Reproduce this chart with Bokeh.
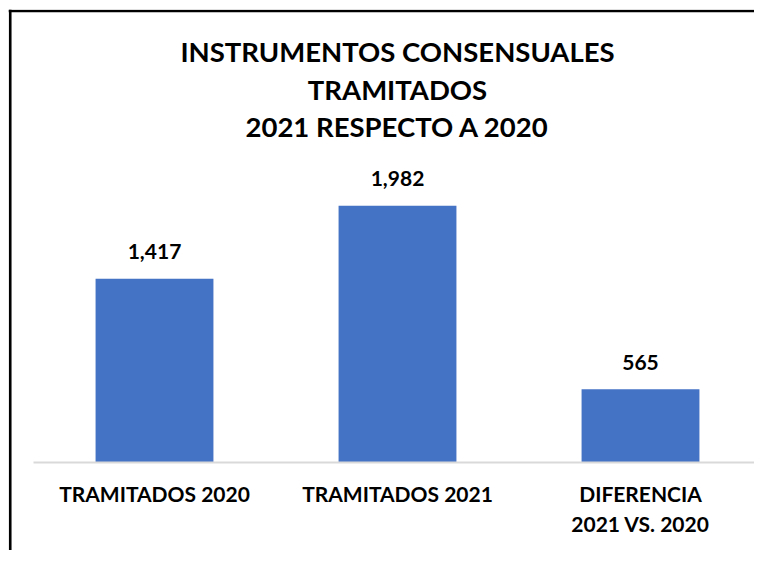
from bokeh.plotting import figure
from bokeh.models import ColumnDataSource, Range1d, Span, LinearAxis
from bokeh.core.properties import value
from bokeh.embed import file_html
from bokeh.resources import INLINE

categories = ["TRAMITADOS 2020", "TRAMITADOS 2021", "DIFERENCIA\n2021 VS. 2020"]
values = [1417, 1982, 565]
value_labels = ["1,417", "1,982", "565"]
title_lines = ["INSTRUMENTOS CONSENSUALES", "TRAMITADOS", "2021 RESPECTO A 2020"]

FONT = "Lato"
BAR = "#4472c4"

W, H = 754, 550
ML, MT = 8, 9                 # frame starts at the chart-area border corner
PX_PER_UNIT = 0.1296          # vertical pixels per value unit
PX_PER_CAT = 243.0            # horizontal pixels per category
BASE_Y = 462                  # baseline, px from top of figure
LEFT_X = 32.5                 # left edge of category band, px

xs = list(range(len(categories)))
src = ColumnDataSource(dict(x=xs, val=values, lab=value_labels))

x0 = -0.5 - (LEFT_X - ML) / PX_PER_CAT
y0 = -(H - BASE_Y) / PX_PER_UNIT
p = figure(
    x_range=Range1d(x0, x0 + (W - ML) / PX_PER_CAT),
    y_range=Range1d(y0, y0 + (H - MT) / PX_PER_UNIT),
    width=W, height=H,
    output_backend="svg", toolbar_location=None,
    min_border=0, min_border_left=ML, min_border_right=0,
    min_border_top=MT, min_border_bottom=0,
)
p.outline_line_color = None
p.xgrid.visible = False
p.ygrid.visible = False
p.yaxis.visible = False
p.xaxis.visible = False

# baseline axis drawn inside the frame at value 0
base = LinearAxis(fixed_location=0, bounds=(-0.5, len(categories) - 0.5))
base.axis_line_color = "#d9d9d9"
base.axis_line_width = 2
base.major_tick_line_color = None
base.minor_tick_line_color = None
base.major_label_text_font_size = "0px"
base.major_label_text_alpha = 0
p.add_layout(base, "below")

p.vbar(x="x", top="val", width=0.485, source=src, color=BAR, line_color=None)
p.text(x="x", y="val", text="lab", source=src, text_align="center",
       text_baseline="alphabetic", y_offset=-27, text_font=value(FONT),
       text_font_style="bold", text_font_size="21px", text_color="#000000")

# category labels, one row per text line
lx, ly, lt, loff = [], [], [], []
for i, c in enumerate(categories):
    for k, line in enumerate(c.split("\n")):
        lx.append(i); ly.append(0); lt.append(line); loff.append(31 + 30 * k)
p.text(x=lx, y=ly, text=lt, y_offset=loff, text_align="center",
       text_baseline="alphabetic", text_font=value(FONT), text_font_style="bold",
       text_font_size="21px", text_color="#000000")

# title lines
title_base_px = [51, 88.7, 126]
tx = [(len(categories) - 1) / 2] * len(title_lines)
ty = [(BASE_Y - b) / PX_PER_UNIT for b in title_base_px]
p.text(x=tx, y=ty, text=title_lines, text_align="center", text_baseline="alphabetic",
       text_font=value(FONT), text_font_style="bold", text_font_size="27.5px",
       text_color="#000000")

# chart-area border: left and top edges (clipped to the frame, so they meet at the corner)
p.add_layout(Span(location=9.7, dimension="height", location_units="canvas",
                  line_color="#000000", line_width=2.7, line_alpha=1.0))
p.add_layout(Span(location=10.5, dimension="width", location_units="canvas",
                  line_color="#000000", line_width=2.7, line_alpha=1.0))

open("out.html", "w").write(file_html(p, INLINE))
